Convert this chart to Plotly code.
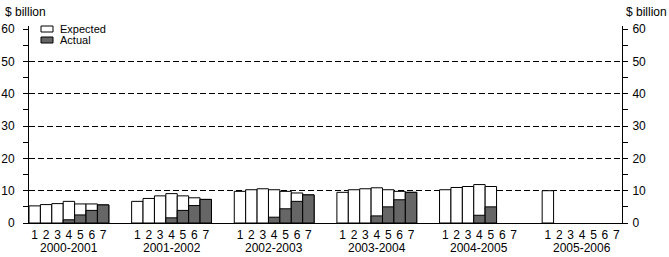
import plotly.graph_objects as go

years = ["2000-2001", "2001-2002", "2002-2003", "2003-2004", "2004-2005", "2005-2006"]
estimates = ["1", "2", "3", "4", "5", "6", "7"]

expected = [
    [5.3, 5.7, 6.0, 6.7, 5.9, 5.9, 5.6],
    [6.7, 7.6, 8.4, 9.1, 8.4, 7.8, 7.3],
    [9.8, 10.3, 10.6, 10.3, 9.8, 9.3, 8.7],
    [9.5, 10.3, 10.6, 10.9, 10.3, 9.8, 9.5],
    [10.3, 11.0, 11.3, 11.9, 11.3, None, None],
    [10.0, None, None, None, None, None, None],
]
actual = [
    [None, None, None, 1.0, 2.5, 3.9, 5.6],
    [None, None, None, 1.6, 3.9, 5.4, 7.3],
    [None, None, None, 1.8, 4.4, 6.7, 8.7],
    [None, None, None, 2.2, 5.0, 7.2, 9.5],
    [None, None, None, 2.4, 5.0, None, None],
    [None, None, None, None, None, None, None],
]

y_ticks = [0, 10, 20, 30, 40, 50, 60]
grid_vals = [10, 20, 30, 40, 50]

GAP = 2
n_est = len(estimates)
period = n_est + GAP

xs, exp_vals, act_vals, tick_x, tick_t = [], [], [], [], []
for g, yr in enumerate(years):
    for i, e in enumerate(estimates):
        x = g * period + i
        xs.append(x)
        exp_vals.append(expected[g][i])
        act_vals.append(actual[g][i])
        tick_x.append(x)
        tick_t.append(e)

DARK = "#666666"
fig = go.Figure()
fig.add_trace(go.Bar(x=xs, y=exp_vals, name="Expected", width=1,
                     marker=dict(color="white", line=dict(color="black", width=1)),
                     showlegend=False))
fig.add_trace(go.Bar(x=xs, y=act_vals, name="Actual", width=1,
                     marker=dict(color=DARK, line=dict(color="black", width=1)),
                     showlegend=False))
fig.add_trace(go.Scatter(x=[xs[0]], y=[0], yaxis="y2", mode="markers",
                         marker=dict(opacity=0), showlegend=False, hoverinfo="skip"))
fig.add_trace(go.Scatter(x=[xs[0]], y=[0], yaxis="y3", mode="markers",
                         marker=dict(opacity=0), showlegend=False, hoverinfo="skip"))

L, R, T, B = 29, 47, 26, 34
W, H = 669, 257
pw, ph = W - L - R, H - T - B
YMAX = 61

font = dict(family="Liberation Sans, Arial, sans-serif", size=12, color="black")

def yax(side, standoff):
    return dict(range=[0, YMAX], tickvals=y_ticks, ticks="outside", ticklen=5,
                tickcolor="black", showline=True, linecolor="black", linewidth=1,
                showgrid=False, zeroline=False, tickfont=font, side=side,
                ticklabelstandoff=standoff, automargin=False,
                minor=dict(dtick=5, tick0=0, ticks="outside", ticklen=5, tickcolor="black",
                           showgrid=False))

y2 = yax("right", 2)
y2.update(overlaying="y", anchor="x")

fig.update_layout(
    width=W, height=H,
    margin=dict(l=L, r=R, t=T, b=B, pad=0, autoexpand=False),
    paper_bgcolor="white", plot_bgcolor="white",
    barmode="overlay",
    font=font,
    xaxis=dict(range=[-0.5, len(years) * period - GAP - 0.5], tickvals=tick_x, ticktext=tick_t,
               ticks="outside", ticklen=1, tickcolor="rgba(0,0,0,0)", showline=True,
               linecolor="black", linewidth=1, showgrid=False, automargin=False,
               zeroline=False, tickfont=font),
    yaxis=yax("left", 6),
    yaxis2=y2,
    yaxis3=dict(range=[0, YMAX], tickvals=grid_vals, overlaying="y", showticklabels=False,
                ticks="", showgrid=True, gridcolor="black", gridwidth=1, griddash="6px,3px",
                showline=False, zeroline=False),
)

def px_x(p):
    return (p - L) / pw

def px_y(p):
    return (H - B - p) / ph

for g, yr in enumerate(years):
    fig.add_annotation(x=g * period + (n_est - 1) / 2, y=px_y(247.5),
                       xref="x", yref="paper", text=yr, showarrow=False,
                       yanchor="middle", xanchor="center", font=font, borderpad=0)

fig.add_annotation(x=px_x(3), y=px_y(12), xref="paper", yref="paper", text="$ billion",
                   showarrow=False, xanchor="left", yanchor="middle", font=font)
fig.add_annotation(x=px_x(624), y=px_y(12), xref="paper", yref="paper", text="$ billion",
                   showarrow=False, xanchor="left", yanchor="middle", font=font)

leg_font = dict(family="Liberation Sans, Arial, sans-serif", size=11, color="black")
for (name, col, yc) in [("Expected", "white", 29), ("Actual", DARK, 40)]:
    fig.add_shape(type="rect", xref="paper", yref="paper",
                  x0=px_x(41), x1=px_x(53), y0=px_y(yc - 3), y1=px_y(yc + 3),
                  fillcolor=col, line=dict(color="black", width=1))
    fig.add_annotation(x=px_x(58), y=px_y(yc), xref="paper", yref="paper", text=name,
                       showarrow=False, xanchor="left", yanchor="middle", font=leg_font)

fig.write_html("out.html")
